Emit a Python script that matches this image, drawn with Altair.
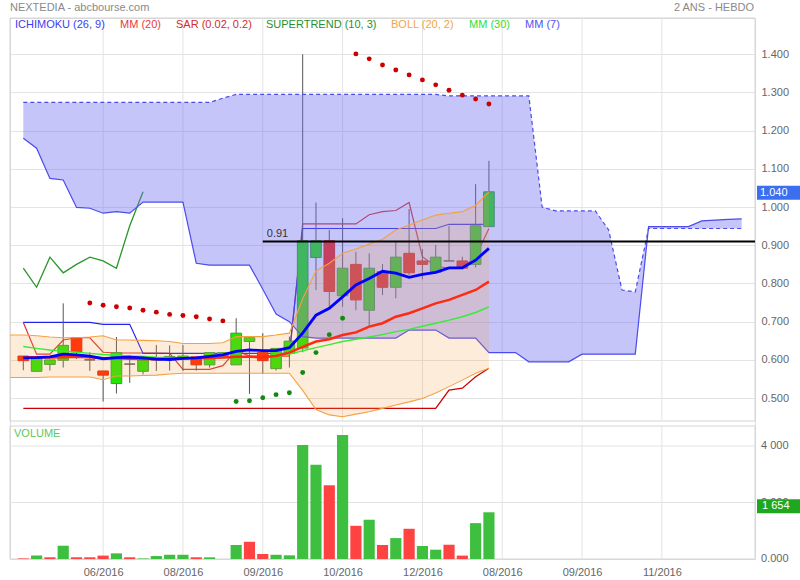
import altair as alt
import pandas as pd

FONT = "Liberation Sans"

# ---------------- weekly quotes ----------------
weeks = list(range(36))
opens = [0.610, 0.570, 0.588, 0.599, 0.658, 0.600, 0.571, 0.538, 0.589, 0.570,
         0.600, 0.603, 0.602, 0.608, 0.587, 0.610, 0.587, 0.648, 0.619, 0.577,
         0.617, 0.631, 0.868, 0.912, 0.768, 0.850, 0.730, 0.831, 0.790, 0.879,
         0.859, 0.829, 0.859, 0.859, 0.850, 0.949]
highs = [0.610, 0.604, 0.600, 0.748, 0.658, 0.620, 0.571, 0.660, 0.613, 0.600,
         0.639, 0.638, 0.639, 0.608, 0.619, 0.619, 0.709, 0.658, 0.670, 0.630,
         0.661, 1.400, 1.012, 0.940, 0.971, 0.883, 0.879, 0.851, 0.909, 0.995,
         0.890, 0.901, 0.951, 0.870, 1.060, 1.121]
lows = [0.573, 0.570, 0.572, 0.580, 0.602, 0.571, 0.491, 0.512, 0.540, 0.562,
        0.571, 0.572, 0.571, 0.572, 0.580, 0.610, 0.587, 0.511, 0.563, 0.572,
        0.580, 0.620, 0.783, 0.739, 0.739, 0.730, 0.689, 0.770, 0.761, 0.822,
        0.811, 0.829, 0.859, 0.840, 0.842, 0.949]
closes = [0.598, 0.604, 0.600, 0.638, 0.621, 0.600, 0.560, 0.619, 0.589, 0.600,
          0.600, 0.609, 0.610, 0.587, 0.619, 0.619, 0.670, 0.658, 0.598, 0.630,
          0.649, 0.912, 0.912, 0.779, 0.840, 0.757, 0.840, 0.790, 0.869, 0.828,
          0.850, 0.869, 0.859, 0.840, 0.951, 1.040]
volumes = [20, 120, 60, 470, 60, 60, 120, 200, 60, 20,
           105, 150, 150, 60, 60, 0, 495, 610, 175, 150,
           130, 4035, 3340, 2610, 4390, 1175, 1390, 495, 740, 1070,
           460, 330, 505, 120, 1270, 1654]

# ---------------- indicators ----------------
mm7 = [0.605, 0.606, 0.608, 0.615, 0.613, 0.610, 0.603, 0.606, 0.607, 0.605,
       0.602, 0.601, 0.604, 0.605, 0.609, 0.613, 0.622, 0.626, 0.624, 0.624,
       0.632, 0.670, 0.717, 0.735, 0.765, 0.796, 0.813, 0.832, 0.827, 0.816,
       0.824, 0.829, 0.841, 0.841, 0.861, 0.892]
mm20 = [0.607, 0.607, 0.606, 0.607, 0.608, 0.607, 0.604, 0.604, 0.603, 0.602,
        0.602, 0.603, 0.604, 0.604, 0.605, 0.606, 0.608, 0.608, 0.607, 0.610,
        0.619, 0.634, 0.648, 0.654, 0.665, 0.672, 0.687, 0.696, 0.713, 0.722,
        0.735, 0.748, 0.757, 0.770, 0.783, 0.805]
mm30 = [0.635, 0.630, 0.626, 0.623, 0.620, 0.617, 0.614, 0.612, 0.610, 0.609,
        0.607, 0.606, 0.606, 0.606, 0.606, 0.606, 0.607, 0.607, 0.607, 0.608,
        0.615, 0.624, 0.632, 0.640, 0.648, 0.654, 0.660, 0.666, 0.674, 0.680,
        0.688, 0.696, 0.704, 0.713, 0.724, 0.739]

boll_weeks = list(range(-1, 36))
boll_upper = [0.665, 0.665, 0.663, 0.660, 0.658, 0.658, 0.660, 0.663, 0.652, 0.652,
              0.651, 0.650, 0.648, 0.643, 0.643, 0.643, 0.645, 0.661, 0.661, 0.661,
              0.665, 0.670, 0.760, 0.833, 0.853, 0.879, 0.890, 0.903, 0.916, 0.940,
              0.953, 0.966, 0.979, 0.984, 0.988, 1.005, 1.040]
boll_lower = [0.554, 0.554, 0.554, 0.555, 0.555, 0.555, 0.555, 0.548, 0.558, 0.558,
              0.559, 0.560, 0.563, 0.565, 0.565, 0.565, 0.565, 0.565, 0.565, 0.565,
              0.565, 0.565, 0.520, 0.470, 0.456, 0.451, 0.458, 0.464, 0.473, 0.482,
              0.490, 0.499, 0.513, 0.530, 0.547, 0.565, 0.578]

tenkan = [0.698, 0.615, 0.615, 0.652, 0.658, 0.658, 0.620, 0.618, 0.618, 0.618,
          0.618, 0.617, 0.575, 0.575, 0.575, 0.585, 0.625, 0.610, 0.610, 0.610,
          0.610, 0.956, 0.956, 0.956, 0.956, 0.956, 0.980, 0.988, 0.991, 1.012,
          0.870, 0.845, 0.840, 0.840, 0.870, 0.944]
kijun = [0.698, 0.698, 0.698, 0.698, 0.698, 0.698, 0.693, 0.693, 0.693, 0.617,
         0.617, 0.617, 0.617, 0.617, 0.617, 0.617, 0.617, 0.617, 0.617, 0.617,
         0.617, 0.944, 0.944, 0.944, 0.944, 0.944, 0.944, 0.944, 0.944, 0.944,
         0.944, 0.944, 0.955, 0.955, 0.955, 0.955]

cloud_weeks = list(range(55))
span_a = [1.180, 1.154, 1.075, 1.071, 0.999, 0.997, 0.984, 0.988, 0.984, 1.013,
          1.013, 1.013, 1.013, 0.853, 0.848, 0.848, 0.848, 0.848, 0.785, 0.720,
          0.700, 0.661, 0.657, 0.657, 0.657, 0.657, 0.657, 0.657, 0.657, 0.678,
          0.678, 0.678, 0.657, 0.657, 0.657, 0.619, 0.619, 0.619, 0.595, 0.595,
          0.595, 0.595, 0.615, 0.615, 0.615, 0.615, 0.615, 0.949, 0.949, 0.949,
          0.949, 0.964, 0.966, 0.968, 0.969]
span_b = [1.274, 1.274, 1.274, 1.274, 1.274, 1.274, 1.274, 1.274, 1.274, 1.274,
          1.274, 1.274, 1.274, 1.274, 1.274, 1.285, 1.295, 1.295, 1.295, 1.295,
          1.295, 1.295, 1.295, 1.295, 1.295, 1.295, 1.295, 1.295, 1.295, 1.295,
          1.295, 1.295, 1.291, 1.291, 1.291, 1.291, 1.291, 1.291, 1.291, 1.000,
          0.990, 0.990, 0.990, 0.990, 0.940, 0.783, 0.778, 0.944, 0.944, 0.944,
          0.944, 0.944, 0.944, 0.944, 0.944]

supertrend = [0.473, 0.473, 0.473, 0.473, 0.473, 0.473, 0.473, 0.473, 0.473, 0.473,
              0.473, 0.473, 0.473, 0.473, 0.473, 0.473, 0.473, 0.473, 0.473, 0.473,
              0.473, 0.473, 0.473, 0.473, 0.473, 0.473, 0.473, 0.473, 0.473, 0.473,
              0.473, 0.473, 0.521, 0.526, 0.556, 0.578]

sar_weeks = list(range(5, 36))
sar_values = [0.749, 0.743, 0.739, 0.736, 0.730, 0.725, 0.719, 0.716, 0.713, 0.707,
              0.702, 0.491, 0.493, 0.501, 0.509, 0.514, 0.567, 0.619, 0.666, 0.709,
              1.401, 1.388, 1.372, 1.359, 1.346, 1.333, 1.320, 1.306, 1.293, 1.283,
              1.270]

level_price = 0.91
level_start = 18

# ---------------- axes ----------------
price_ticks = [0.5, 0.6, 0.7, 0.8, 0.9, 1.0, 1.1, 1.2, 1.3, 1.4]
vol_ticks = [0, 2000, 4000]
vol_tick_labels = ["0.000", "2 000", "4 000"]
date_ticks = [6, 12, 18, 24, 30, 36, 42, 48]
date_labels = ["06/2016", "08/2016", "09/2016", "10/2016",
               "12/2016", "08/2016", "09/2016", "11/2016"]

X_MIN, X_MAX = -1, 55
P_MIN, P_MAX = 0.440, 1.495
V_MAX = 4708

XS = alt.Scale(domain=[X_MIN, X_MAX], nice=False, zero=False)
PS = alt.Scale(domain=[P_MIN, P_MAX], range=[403, 0], nice=False, zero=False)
VS = alt.Scale(domain=[0, V_MAX], range=[541, 408], nice=False, zero=False)

GRID = "#e3e3e3"
FRAME = "#d4d4d4"

price_axis = alt.Axis(orient="right", values=price_ticks, format=".3f", grid=True,
                      gridColor=GRID, ticks=False, domain=False, labelPadding=6,
                      labelColor="#666666", labelFontSize=11, labelFont=FONT, title=None)
date_expr = " : ".join(f"datum.value == {t} ? '{l}'"
                       for t, l in zip(date_ticks, date_labels)) + " : ''"
date_axis = alt.Axis(orient="bottom", values=date_ticks, labelExpr=date_expr, grid=False,
                     ticks=False, domain=False, labelPadding=7, labelColor="#666666",
                     labelFontSize=11, labelFont=FONT, title=None, labelOverlap=False,
                     labelFlush=False)


# every layer repeats the same scale and axis so that they merge into one
def xq(field):
    return alt.X(f"{field}:Q", scale=XS, axis=date_axis)


def py(field):
    return alt.Y(f"{field}:Q", scale=PS, axis=price_axis)


def vy(field):
    return alt.Y(f"{field}:Q", scale=VS, axis=None)


def label(txt, x, y, color, size=11, align="left"):
    return alt.Chart(pd.DataFrame({"t": [txt]})).mark_text(
        align=align, baseline="middle", font=FONT, fontSize=size, color=color
    ).encode(x=alt.value(x), y=alt.value(y), text="t:N")


# ---------------- data tables ----------------
candles = pd.DataFrame({"i": weeks, "o": opens, "h": highs, "l": lows, "c": closes})
prev = [closes[0] + 1] + closes[:-1]
vol_df = pd.DataFrame({"i": weeks, "v": volumes, "base": 0, "c": closes, "p": prev})

mm_df = pd.DataFrame({"i": weeks, "mm7": mm7, "mm20": mm20, "mm30": mm30,
                      "tenkan": tenkan, "kijun": kijun, "strend": supertrend})
chikou_df = pd.DataFrame({"i": weeks[:10], "v": closes[26:]})
boll_df = pd.DataFrame({"i": boll_weeks, "up": boll_upper, "lo": boll_lower})
cloud_df = pd.DataFrame({"i": cloud_weeks, "a": span_a, "b": span_b})
sar_df = pd.DataFrame({"i": sar_weeks, "v": sar_values, "c": [closes[i] for i in sar_weeks]})

price_frame = pd.DataFrame({"x0": [X_MIN], "x1": [X_MAX], "y0": [P_MIN], "y1": [P_MAX]})
vol_frame = pd.DataFrame({"x0": [X_MIN], "x1": [X_MAX], "y0": [0], "y1": [V_MAX]})
pgrid = pd.DataFrame({"i": date_ticks, "y0": P_MIN, "y1": P_MAX})
vgrid = pd.DataFrame({"i": date_ticks, "y0": 0, "y1": V_MAX})
vhgrid = pd.DataFrame({"v": vol_ticks[1:], "x0": X_MIN, "x1": X_MAX})
vlabels = pd.DataFrame({"v": vol_ticks, "t": vol_tick_labels})
level_df = pd.DataFrame({"x0": [level_start], "x1": [X_MAX], "p": [level_price]})
last_df = candles.tail(1)
last_vol = vol_df.tail(1)

# ---------------- price panel ----------------
frame_p = alt.Chart(price_frame).mark_rect(fill="white", fillOpacity=0, stroke=FRAME, strokeWidth=1).encode(
    x=xq("x0"), x2=alt.X2("x1"), y=py("y0"), y2=alt.Y2("y1"))
grid_p = alt.Chart(pgrid).mark_rule(color=GRID, strokeWidth=1).encode(
    x=xq("i"), y=py("y0"), y2=alt.Y2("y1"))

base_mm = alt.Chart(mm_df)
tenkan_l = base_mm.mark_line(color="#dd3030", strokeWidth=1.2).encode(x=xq("i"), y=py("tenkan"))
kijun_l = base_mm.mark_line(color="#2424ee", strokeWidth=1.2).encode(x=xq("i"), y=py("kijun"))
strend_l = base_mm.mark_line(color="#cc0000", strokeWidth=1.3).encode(x=xq("i"), y=py("strend"))
chikou_l = alt.Chart(chikou_df).mark_line(color="#2a962a", strokeWidth=1.3).encode(x=xq("i"), y=py("v"))

wicks = alt.Chart(candles).mark_rule(color="#555555", strokeWidth=1).encode(
    x=xq("i"), y=py("l"), y2=alt.Y2("h"))
bodies = alt.Chart(candles).transform_calculate(
    x0="datum.i - 0.4", x1="datum.i + 0.4",
    fc="datum.c > datum.o ? '#22e600' : (datum.c < datum.o ? '#ff2200' : '#666666')",
    sc="datum.c > datum.o ? '#3c9a3c' : (datum.c < datum.o ? '#dd2200' : '#555555')",
).mark_rect(strokeWidth=1).encode(
    x=xq("x0"), x2=alt.X2("x1"), y=py("o"), y2=alt.Y2("c"),
    fill=alt.Fill("fc:N", scale=None), stroke=alt.Stroke("sc:N", scale=None))

cloud = alt.Chart(cloud_df).mark_area(fill="#6e6ef0", fillOpacity=0.4).encode(
    x=xq("i"), y=py("a"), y2=alt.Y2("b"))
span_a_l = alt.Chart(cloud_df).mark_line(color="#4b4bee", strokeWidth=1.2).encode(x=xq("i"), y=py("a"))
span_b_l = alt.Chart(cloud_df).mark_line(color="#4b4bee", strokeWidth=1.2, strokeDash=[4, 3]).encode(
    x=xq("i"), y=py("b"))

boll = alt.Chart(boll_df).mark_area(fill="#f5a040", fillOpacity=0.2).encode(
    x=xq("i"), y=py("up"), y2=alt.Y2("lo"))
boll_u = alt.Chart(boll_df).mark_line(color="#f5a040", strokeWidth=1.1).encode(x=xq("i"), y=py("up"))
boll_d = alt.Chart(boll_df).mark_line(color="#f5a040", strokeWidth=1.1).encode(x=xq("i"), y=py("lo"))

mm30_l = base_mm.mark_line(color="#33ee33", strokeWidth=1.4).encode(x=xq("i"), y=py("mm30"))
mm20_l = base_mm.mark_line(color="#ff2a10", strokeWidth=2.5).encode(x=xq("i"), y=py("mm20"))
mm7_l = base_mm.mark_line(color="#0000ff", strokeWidth=2.8).encode(x=xq("i"), y=py("mm7"))

sar = alt.Chart(sar_df).transform_calculate(
    col="datum.v > datum.c ? '#cc0000' : '#128a12'"
).mark_circle(size=24, opacity=1).encode(
    x=xq("i"), y=py("v"), color=alt.Color("col:N", scale=None))

level_l = alt.Chart(level_df).mark_rule(color="#000000", strokeWidth=2).encode(
    x=xq("x0"), x2=alt.X2("x1"), y=py("p"))
level_t = alt.Chart(level_df).mark_text(
    align="left", baseline="middle", font=FONT, fontSize=11, color="#333333", dx=4, dy=-7
).encode(x=xq("x0"), y=py("p"), text=alt.Text("p:Q", format=".2f"))

tag_shape = "M-1,-0.3256L1,-0.3256L1,0.3256L-1,0.3256Z"
price_tag = alt.Chart(last_df).mark_point(
    shape=tag_shape, size=1849, filled=True, color="#3c6ef0", opacity=1, yOffset=1
).encode(x=alt.value(768.5), y=py("c"))
price_tag_t = alt.Chart(last_df).mark_text(
    align="left", baseline="middle", font=FONT, fontSize=11, color="white", yOffset=1
).encode(x=alt.value(750), y=py("c"), text=alt.Text("c:Q", format=".3f"))

legend_items = [
    ("ICHIMOKU (26, 9)", "#3d3df0", 5),
    ("MM (20)", "#ea3a3a", 110),
    ("SAR (0.02, 0.2)", "#d42b2b", 166),
    ("SUPERTREND (10, 3)", "#2a8f2a", 256),
    ("BOLL (20, 2)", "#f2a444", 381),
    ("MM (30)", "#33dd33", 459),
    ("MM (7)", "#5252f0", 515),
]
texts = [label(t, x, 7, c) for t, c, x in legend_items]
texts.append(label("NEXTEDIA - abcbourse.com", 0, -10, "#8a8a8a"))
texts.append(label("2 ANS - HEBDO", 744, -10, "#8a8a8a", align="right"))

price_layer = alt.layer(
    frame_p, grid_p, tenkan_l, kijun_l, chikou_l, strend_l, wicks, bodies,
    cloud, span_a_l, span_b_l, boll, boll_u, boll_d, mm30_l, mm20_l, mm7_l, sar,
    level_l, level_t, price_tag, price_tag_t, *texts)

# ---------------- volume panel ----------------
frame_v = alt.Chart(vol_frame).mark_rect(fill="white", fillOpacity=0, stroke=FRAME, strokeWidth=1).encode(
    x=xq("x0"), x2=alt.X2("x1"), y=vy("y0"), y2=alt.Y2("y1"))
grid_v = alt.Chart(vgrid).mark_rule(color=GRID, strokeWidth=1).encode(
    x=xq("i"), y=vy("y0"), y2=alt.Y2("y1"))
hgrid_v = alt.Chart(vhgrid).mark_rule(color=GRID, strokeWidth=1).encode(
    x=xq("x0"), x2=alt.X2("x1"), y=vy("v"))
vbars = alt.Chart(vol_df).transform_calculate(
    x0="datum.i - 0.42", x1="datum.i + 0.42",
    col="datum.c >= datum.p ? '#3fbf3f' : '#ff4242'",
).mark_rect().encode(
    x=xq("x0"), x2=alt.X2("x1"), y=vy("v"), y2=alt.Y2("base"),
    color=alt.Color("col:N", scale=None))
vlab = alt.Chart(vlabels).mark_text(
    align="left", baseline="middle", font=FONT, fontSize=11, color="#666666"
).encode(x=alt.value(751), y=vy("v"), text="t:N")
vol_tag = alt.Chart(last_vol).mark_point(
    shape=tag_shape, size=1849, filled=True, color="#1fa81f", opacity=1, yOffset=-6
).encode(x=alt.value(768.5), y=vy("v"))
vol_tag_t = alt.Chart(last_vol).transform_calculate(
    lbl="replace(format(datum.v, ','), ',', ' ')"
).mark_text(
    align="left", baseline="middle", font=FONT, fontSize=11, color="white", yOffset=-6
).encode(x=alt.value(752), y=vy("v"), text="lbl:N")
vol_title = label("VOLUME", 4, 416, "#5cc85c")

vol_layer = alt.layer(frame_v, grid_v, hgrid_v, vbars, vlab, vol_tag, vol_tag_t, vol_title)

chart = alt.layer(price_layer, vol_layer).resolve_scale(y="independent").properties(
    width=745, height=541,
    autosize=alt.AutoSizeParams(type="none"),
    padding={"left": 10, "top": 18, "right": 45, "bottom": 21},
).configure_view(stroke=None).configure(background="white", font=FONT)

chart.save("out.html", embed_options={"renderer": "svg", "actions": False})
